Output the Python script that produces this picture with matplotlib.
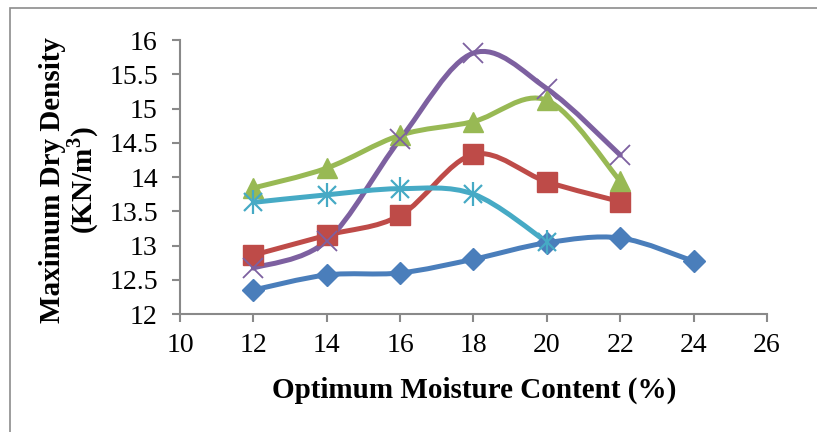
import matplotlib
matplotlib.use('Agg')
import matplotlib.pyplot as plt
from matplotlib.path import Path
from matplotlib.patches import PathPatch, Rectangle

# data
omc_a = [12, 14, 16, 18, 20, 22, 24]
mdd_a = [12.35, 12.57, 12.60, 12.80, 13.04, 13.11, 12.77]

omc_b = [12, 14, 16, 18, 20, 22]
mdd_b = [12.86, 13.15, 13.44, 14.33, 13.93, 13.64]

omc_c = [12, 14, 16, 18, 20, 22]
mdd_c = [13.84, 14.13, 14.61, 14.81, 15.12, 13.94]

omc_d = [12, 14, 16, 18, 20, 22]
mdd_d = [12.67, 13.07, 14.55, 15.81, 15.29, 14.32]

omc_e = [12, 14, 16, 18, 20]
mdd_e = [13.63, 13.74, 13.83, 13.75, 13.05]

plt.rcParams['font.family'] = ['Liberation Serif', 'DejaVu Serif']
plt.rcParams['mathtext.fontset'] = 'custom'
plt.rcParams['mathtext.rm'] = 'Liberation Serif'
plt.rcParams['mathtext.bf'] = 'Liberation Serif:bold'


def smooth_line(ax, xs, ys, color):
    # Excel-style smoothed line (Catmull-Rom as cubic Bezier)
    pts = list(zip(xs, ys))
    verts = [pts[0]]
    codes = [Path.MOVETO]
    n = len(pts)
    for i in range(n - 1):
        p0 = pts[i - 1] if i > 0 else pts[i]
        p1 = pts[i]
        p2 = pts[i + 1]
        p3 = pts[i + 2] if i + 2 < n else pts[i + 1]
        c1 = (p1[0] + (p2[0] - p0[0]) / 6, p1[1] + (p2[1] - p0[1]) / 6)
        c2 = (p2[0] - (p3[0] - p1[0]) / 6, p2[1] - (p3[1] - p1[1]) / 6)
        verts += [c1, c2, p2]
        codes += [Path.CURVE4] * 3
    patch = PathPatch(Path(verts, codes), facecolor='none', edgecolor=color,
                      lw=3.6, capstyle='round', joinstyle='round')
    ax.add_patch(patch)


fig = plt.figure(figsize=(8.17, 4.32), dpi=100)
ax = fig.add_axes([0.2203, 0.2731, 0.7185, 0.6343])

blue = '#4A7EBB'
red = '#BE4B48'
green = '#98B954'
purple = '#7D60A0'
cyan = '#46AAC5'

smooth_line(ax, omc_a, mdd_a, blue)
ax.plot(omc_a, mdd_a, 'D', color=blue, ms=11.5, mec=blue, zorder=3)

smooth_line(ax, omc_b, mdd_b, red)
ax.plot(omc_b, mdd_b, 's', color=red, ms=14, mec=red, zorder=3)

smooth_line(ax, omc_c, mdd_c, green)
ax.plot(omc_c, mdd_c, '^', color=green, ms=15, mec=green, zorder=3)

smooth_line(ax, omc_d, mdd_d, purple)
ax.plot(omc_d, mdd_d, 'x', color=purple, ms=15, mew=1.3, zorder=3)

smooth_line(ax, omc_e, mdd_e, cyan)
ax.plot(omc_e, mdd_e, 'x', color=cyan, ms=13, mew=1.6, zorder=3)
ax.plot(omc_e, mdd_e, '|', color=cyan, ms=17, mew=1.6, zorder=3)

ax.set_xlim(10, 26)
ax.set_ylim(12, 16)
ax.set_xticks(range(10, 27, 2))
ax.set_yticks([12, 12.5, 13, 13.5, 14, 14.5, 15, 15.5, 16])
ax.set_yticklabels(['12', '12.5', '13', '13.5', '14', '14.5', '15', '15.5', '16'])

for s in ['top', 'right']:
    ax.spines[s].set_visible(False)
for s in ['left', 'bottom']:
    ax.spines[s].set_color('#898989')
    ax.spines[s].set_linewidth(1.5)
ax.tick_params(colors='#898989', length=6, width=1.5, labelsize=20,
               labelcolor='black')
ax.tick_params(axis='x', pad=8)
ax.tick_params(axis='y', pad=10)

fig.text(0.580, 0.097, 'Optimum Moisture Content (%)', fontsize=21,
         fontweight='bold', ha='center', va='center')
fig.text(70 / 817, 1 - 180 / 432, 'Maximum Dry Density\n(KN/m$^\\mathbf{3}$)',
         fontsize=21, fontweight='bold', rotation=90, ha='center',
         va='center', linespacing=0.95, multialignment='center')

# chart area border (only left/top edge visible in the crop)
fig.patches.append(Rectangle((10 / 817, -0.1), 1.2, (432 - 8) / 432 + 0.1,
                             transform=fig.transFigure, fill=False,
                             edgecolor='#8c8c8c', lw=1.2))

fig.savefig('out.png', dpi=100)
plt.close()
